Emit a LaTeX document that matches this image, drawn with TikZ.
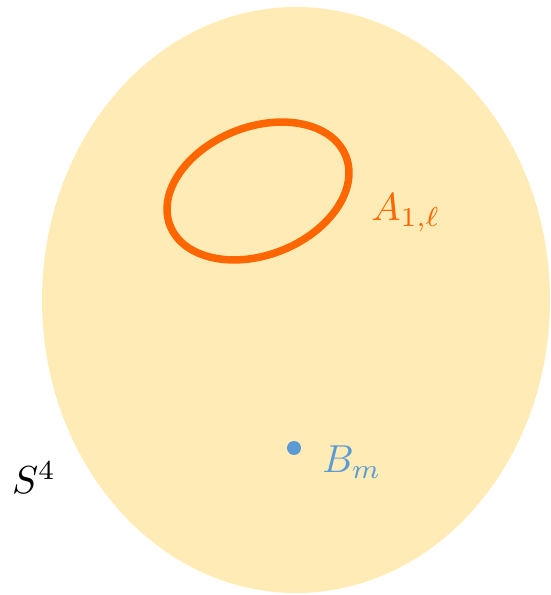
\documentclass[tikz,border=0pt]{standalone}
\usepackage{amsmath,amssymb}
\usepackage{graphicx}
\usepackage{xcolor}
\usepackage{tikz}
\usetikzlibrary{positioning}

\definecolor{spherefill}{HTML}{FFEBB5}
\definecolor{looporange}{HTML}{FF6600}
\definecolor{pointblue}{HTML}{5B9BD5}
\newcommand{\biglbl}[1]{\scalebox{3.9}{#1}}

\begin{document}
\begin{tikzpicture}[
  x=1pt, y=1pt,
  lbl/.style={inner sep=0pt},
  dot/.style={circle, fill=pointblue, inner sep=0pt, minimum size=14pt}
]
\useasboundingbox (0,0) rectangle (550,595);
% the 4-sphere
\fill[spherefill] (296,295) ellipse [x radius=254, y radius=293];
% the loop A
\draw[looporange, line width=7.5pt, rotate around={21.6:(258,404)}] (258,404) ellipse [x radius=94.5, y radius=64];
\node[lbl, text=looporange] (A) at (406,382) {\biglbl{$A_{1,\ell}$}};
% the point B
\node[dot] (b) at (294,147) {};
\node[lbl, text=pointblue] (B) at (352,133) {\biglbl{$B_m$}};
\node[lbl] (S) at (34,117) {\biglbl{$S^4$}};
\end{tikzpicture}
\end{document}
